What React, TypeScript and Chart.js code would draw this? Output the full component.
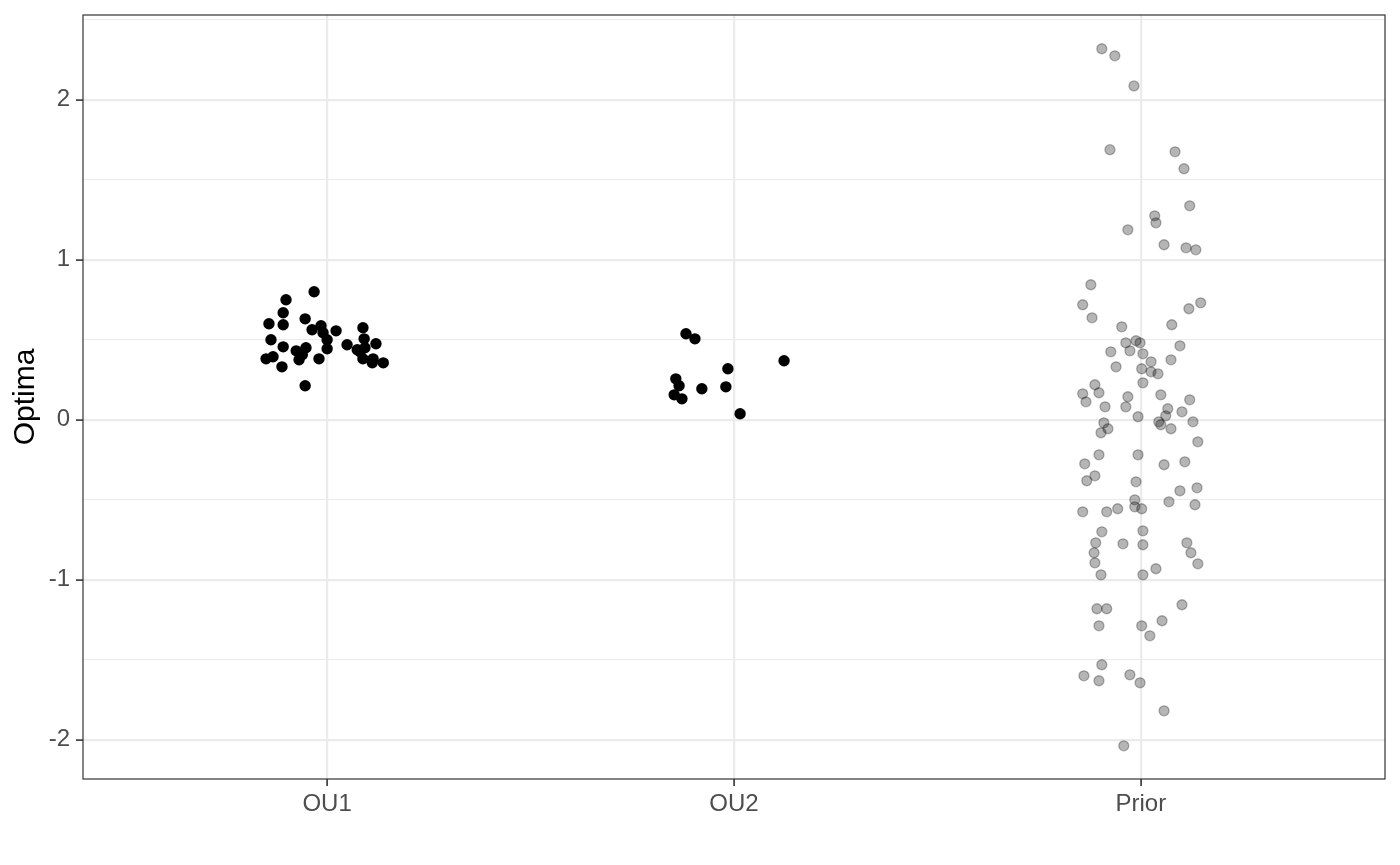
import React, { useEffect, useRef } from "react";
import { Chart, registerables } from "chart.js";

Chart.register(...registerables);

const categories = ["OU1", "OU2", "Prior"];
const categoryPositions = [1, 2, 3];
const yTickValues = [-2, -1.5, -1, -0.5, 0, 0.5, 1, 1.5, 2, 2.5];
const yAxisTitle = "Optima";

// jittered x positions (category index + jitter) and values
const ou1X = [0.968, 0.899, 0.892, 0.857, 0.892, 0.946, 0.963, 0.985, 0.990, 1.022, 1.088, 0.862, 0.892, 1.000, 1.000, 1.091, 1.049, 1.074, 1.120, 1.093, 0.850, 0.867, 0.924, 0.948, 0.931, 0.980, 0.889, 1.088, 1.113, 1.111, 1.138, 0.946, 0.939, 1.081];
const ou1Y = [0.80, 0.75, 0.669, 0.60, 0.594, 0.631, 0.5625, 0.5875, 0.544, 0.556, 0.575, 0.50, 0.456, 0.50, 0.444, 0.506, 0.469, 0.4375, 0.475, 0.45, 0.381, 0.394, 0.431, 0.45, 0.375, 0.381, 0.331, 0.381, 0.381, 0.356, 0.356, 0.2125, 0.406, 0.425];

const ou2X = [1.882, 1.904, 2.123, 1.985, 1.857, 1.865, 1.921, 1.980, 1.853, 1.872, 2.015];
const ou2Y = [0.5375, 0.506, 0.369, 0.319, 0.256, 0.2125, 0.194, 0.206, 0.156, 0.131, 0.0375];

const priorX = [
  2.904, 2.936, 2.983, 2.924, 3.084, 3.106, 3.120, 3.034, 3.037, 2.968,
  3.057, 3.111, 3.135, 2.877, 2.857, 3.147, 3.118, 2.880, 3.076, 2.953,
  2.963, 2.988, 2.998, 2.926, 2.973, 3.096, 3.005, 3.025, 3.074, 2.939,
  3.002, 3.025, 3.042, 3.005, 2.887, 2.857, 2.897, 2.968, 3.049, 3.120,
  2.865, 2.912, 2.963, 3.066, 2.993, 3.061, 3.101, 2.909, 3.044, 3.049,
  2.919, 2.902, 3.074, 3.128, 3.140, 2.897, 2.993, 2.862, 3.057, 3.108,
  2.887, 2.867, 2.988, 3.096, 3.138, 2.985, 3.069, 3.133, 2.985, 3.002,
  2.857, 2.916, 2.943, 2.904, 3.005, 2.889, 2.956, 3.005, 3.113, 2.885,
  3.123, 2.887, 3.140, 2.902, 3.005, 3.037, 2.892, 2.916, 3.101, 2.897,
  3.002, 3.052, 3.022, 2.904, 2.860, 2.897, 2.973, 2.998, 3.057, 2.958,
];
const priorY = [
  2.319, 2.275, 2.087, 1.688, 1.675, 1.569, 1.3375, 1.275, 1.231, 1.1875,
  1.094, 1.075, 1.0625, 0.844, 0.719, 0.731, 0.694, 0.6375, 0.594, 0.581,
  0.481, 0.494, 0.481, 0.425, 0.431, 0.4625, 0.4125, 0.3625, 0.375, 0.331,
  0.319, 0.30, 0.2875, 0.231, 0.219, 0.1625, 0.169, 0.144, 0.156, 0.125,
  0.1125, 0.081, 0.081, 0.069, 0.019, 0.025, 0.05, -0.019, -0.0125, -0.031,
  -0.056, -0.081, -0.056, -0.0125, -0.1375, -0.219, -0.219, -0.275, -0.281, -0.2625,
  -0.35, -0.381, -0.3875, -0.444, -0.425, -0.50, -0.5125, -0.531, -0.544, -0.556,
  -0.575, -0.575, -0.556, -0.70, -0.694, -0.769, -0.775, -0.781, -0.769, -0.831,
  -0.831, -0.894, -0.90, -0.969, -0.969, -0.931, -1.181, -1.181, -1.156, -1.2875,
  -1.2875, -1.256, -1.35, -1.531, -1.60, -1.631, -1.594, -1.644, -1.819, -2.0375,
];

const FONT = '"Liberation Sans", Arial, Helvetica, sans-serif';

const toPoints = (xs: number[], ys: number[]) => xs.map((x, i) => ({ x, y: ys[i] }));

const panelBorder = {
  id: "panelBorder",
  afterDraw(chart: any) {
    const { ctx, chartArea } = chart;
    const { left, top, right, bottom } = chartArea;
    ctx.save();
    ctx.strokeStyle = "#333333";
    ctx.lineWidth = 1.2;
    ctx.strokeRect(left, top, right - left, bottom - top);
    ctx.restore();
  },
};

export default function App() {
  const canvasRef = useRef<HTMLCanvasElement | null>(null);

  useEffect(() => {
    if (!canvasRef.current) return;
    const chart = new Chart(canvasRef.current, {
      type: "scatter",
      data: {
        datasets: [
          {
            label: "OU1",
            data: toPoints(ou1X, ou1Y),
            backgroundColor: "#000000",
            borderWidth: 0,
            pointRadius: 5.7,
          },
          {
            label: "OU2",
            data: toPoints(ou2X, ou2Y),
            backgroundColor: "#000000",
            borderWidth: 0,
            pointRadius: 5.7,
          },
          {
            label: "Prior",
            data: toPoints(priorX, priorY),
            backgroundColor: "rgba(0,0,0,0.29)",
            borderColor: "rgba(0,0,0,0.29)",
            borderWidth: 1.3,
            pointRadius: 5.0,
          },
        ],
      },
      options: {
        animation: false,
        responsive: false,
        layout: { padding: { top: 15, right: 15, left: 0, bottom: 0 } },
        plugins: {
          legend: { display: false },
          tooltip: { enabled: false },
        },
        scales: {
          x: {
            type: "linear",
            min: 0.4,
            max: 3.6,
            afterBuildTicks: (s: any) => {
              s.ticks = categoryPositions.map((v) => ({ value: v }));
            },
            afterFit: (s: any) => {
              s.height = 86;
              s.paddingLeft = 0;
              s.paddingRight = 0;
            },
            ticks: {
              autoSkip: false,
              maxRotation: 0,
              padding: 3.5,
              color: "#4d4d4d",
              font: { family: FONT, size: 24 },
              callback: (v: any) => categories[Math.round(Number(v)) - 1] ?? "",
            },
            grid: {
              color: "#ebebeb",
              lineWidth: 2.2,
              tickColor: "#333333",
              tickLength: 7,
              tickWidth: 1.6,
            },
            border: { display: false },
          },
          y: {
            type: "linear",
            min: -2.245,
            max: 2.53,
            afterBuildTicks: (s: any) => {
              s.ticks = yTickValues.map((v) => ({ value: v }));
            },
            afterFit: (s: any) => {
              s.width = 83;
              s.paddingTop = 0;
              s.paddingBottom = 0;
            },
            ticks: {
              autoSkip: false,
              padding: 6,
              color: "#4d4d4d",
              font: { family: FONT, size: 24 },
              callback: (v: any) => (Number.isInteger(Number(v)) ? String(v) : ""),
            },
            grid: {
              color: "#ebebeb",
              lineWidth: (ctx: any) => (Number.isInteger(ctx.tick?.value) ? 2.2 : 1.1),
              tickColor: (ctx: any) => (Number.isInteger(ctx.tick?.value) ? "#333333" : "rgba(0,0,0,0)"),
              tickLength: 7,
              tickWidth: 1.6,
            },
            border: { display: false },
            title: {
              display: true,
              text: yAxisTitle,
              color: "#000000",
              font: { family: FONT, size: 30, lineHeight: 1.2 },
              padding: { top: 8, bottom: 0 },
            },
          },
        },
      },
      plugins: [panelBorder],
    } as any);
    return () => chart.destroy();
  }, []);

  return (
    <div style={{ position: "absolute", left: 0, top: 0, width: 1400, height: 865, background: "#ffffff" }}>
      <canvas ref={canvasRef} width={1400} height={865} style={{ display: "block" }} />
    </div>
  );
}
